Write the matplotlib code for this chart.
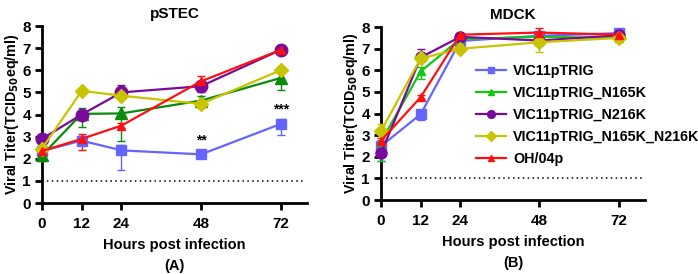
import numpy as np
import matplotlib.pyplot as plt

plt.rcParams['font.family'] = ['Liberation Sans', 'DejaVu Sans']
plt.rcParams['font.weight'] = 'bold'
plt.rcParams['axes.labelweight'] = 'bold'

hours = [0, 12, 24, 48, 72]
names = ["VIC11pTRIG", "VIC11pTRIG_N165K", "VIC11pTRIG_N216K",
         "VIC11pTRIG_N165K_N216K", "OH/04p"]

# pSTEC means and error bars (lower, upper)
stec = {
    "VIC11pTRIG": [2.35, 2.82, 2.38, 2.2, 3.57],
    "VIC11pTRIG_N165K": [2.15, 4.03, 4.05, 4.63, 5.65],
    "VIC11pTRIG_N216K": [2.9, 4.0, 5.0, 5.28, 6.92],
    "VIC11pTRIG_N165K_N216K": [2.45, 5.07, 4.85, 4.48, 6.0],
    "OH/04p": [2.35, 2.9, 3.5, 5.5, 6.92],
}
stec_lo = {
    "VIC11pTRIG": [0.35, 0.2, 0.88, 0.05, 0.5],
    "VIC11pTRIG_N165K": [0.15, 0.58, 1.25, 0.2, 0.55],
    "VIC11pTRIG_N216K": [0.1, 0.1, 0.2, 0.25, 0.05],
    "VIC11pTRIG_N165K_N216K": [0.1, 0.05, 0.1, 0.2, 0.05],
    "OH/04p": [0.45, 0.5, 0.1, 0.45, 0.05],
}
stec_hi = {
    "VIC11pTRIG": [0.1, 0.2, 0.25, 0.05, 0.24],
    "VIC11pTRIG_N165K": [0.1, 0.25, 0.28, 0.2, 0.25],
    "VIC11pTRIG_N216K": [0.05, 0.1, 0.35, 0.15, 0.05],
    "VIC11pTRIG_N165K_N216K": [0.1, 0.05, 0.3, 0.1, 0.05],
    "OH/04p": [0.1, 0.2, 0.1, 0.25, 0.05],
}

# MDCK means and error bars
mdck = {
    "VIC11pTRIG": [2.5, 3.97, 7.36, 7.6, 7.72],
    "VIC11pTRIG_N165K": [2.7, 5.95, 7.45, 7.55, 7.5],
    "VIC11pTRIG_N216K": [2.17, 6.6, 7.55, 7.38, 7.62],
    "VIC11pTRIG_N165K_N216K": [3.2, 6.55, 7.0, 7.3, 7.5],
    "OH/04p": [2.75, 4.76, 7.65, 7.75, 7.65],
}
mdck_lo = {
    "VIC11pTRIG": [0.7, 0.25, 0.1, 0.1, 0.05],
    "VIC11pTRIG_N165K": [0.9, 0.35, 0.1, 0.05, 0.1],
    "VIC11pTRIG_N216K": [0.1, 0.1, 0.1, 0.1, 0.05],
    "VIC11pTRIG_N165K_N216K": [0.1, 0.1, 0.05, 0.45, 0.05],
    "OH/04p": [0.2, 0.1, 0.05, 0.05, 0.05],
}
mdck_hi = {
    "VIC11pTRIG": [0.2, 0.1, 0.1, 0.1, 0.05],
    "VIC11pTRIG_N165K": [0.1, 0.2, 0.1, 0.05, 0.05],
    "VIC11pTRIG_N216K": [0.1, 0.4, 0.1, 0.1, 0.05],
    "VIC11pTRIG_N165K_N216K": [0.3, 0.1, 0.05, 0.1, 0.05],
    "OH/04p": [0.1, 0.1, 0.1, 0.2, 0.05],
}

markers = ["s", "^", "o", "D", "^"]
left_colors = ["#6464ff", "#0a8a0a", "#7a0a9a", "#c8c400", "#ff1010"]
right_colors = ["#6464ff", "#10c810", "#7a0a9a", "#c8c400", "#ff1010"]
left_sizes = [7, 8, 9, 7, 6]
right_sizes = [7, 6, 8, 7, 6]


def panel(ax, data, lo, hi, colors, sizes, title, letter):
    lines = []
    for i, n in enumerate(names):
        eb = ax.errorbar(hours, data[n], yerr=[lo[n], hi[n]], color=colors[i],
                         marker=markers[i], markersize=sizes[i], linewidth=1.6,
                         elinewidth=1.0, capsize=3, capthick=1.0, label=n,
                         clip_on=False, zorder=3)
        lines.append(eb[0])
    ax.hlines(1, 0, 79, colors="black", linestyles=(0, (1, 2.2)), linewidth=1.1)
    ax.set_xlim(0, 80)
    ax.set_ylim(0, 8)
    ax.set_xticks(hours)
    ax.set_yticks(range(0, 9))
    for s in ["top", "right"]:
        ax.spines[s].set_visible(False)
    for s in ["left", "bottom"]:
        ax.spines[s].set_linewidth(2)
    ax.tick_params(width=2, length=5, labelsize=11, pad=3)
    ax.tick_params(axis="x", pad=5)
    for lab in ax.get_xticklabels() + ax.get_yticklabels():
        lab.set_fontweight("bold")
    ax.set_title(title, fontsize=11, fontweight="bold", pad=6)
    ax.set_xlabel("Hours post infection\n(" + letter + ")",
                  fontsize=10.5, linespacing=1.65, labelpad=5)
    ax.set_ylabel("Viral Titer(TCID$_{\\mathbf{50}}$eq/ml)", fontsize=10.3, labelpad=1)
    return lines


fig = plt.figure(figsize=(6.98, 2.74), dpi=100)
ax1 = fig.add_axes([0.060, 0.259, 0.380, 0.646])
ax2 = fig.add_axes([0.546, 0.270, 0.378, 0.631])

panel(ax1, stec, stec_lo, stec_hi, left_colors, left_sizes, "pSTEC", "A")
lines = panel(ax2, mdck, mdck_lo, mdck_hi, right_colors, right_sizes, "MDCK", "B")

ax1.text(48, 2.5, "**", ha="center", va="bottom", fontsize=10)
ax1.text(72, 3.9, "***", ha="center", va="bottom", fontsize=10)

ax2.legend(lines, names, loc="upper left", bbox_to_anchor=(0.31, 0.86),
           frameon=False, handlelength=2.1, handletextpad=0.5, markerscale=0.7,
           labelspacing=0.55, prop={"weight": "bold", "size": 10.3})

fig.savefig("out.png", dpi=100)
